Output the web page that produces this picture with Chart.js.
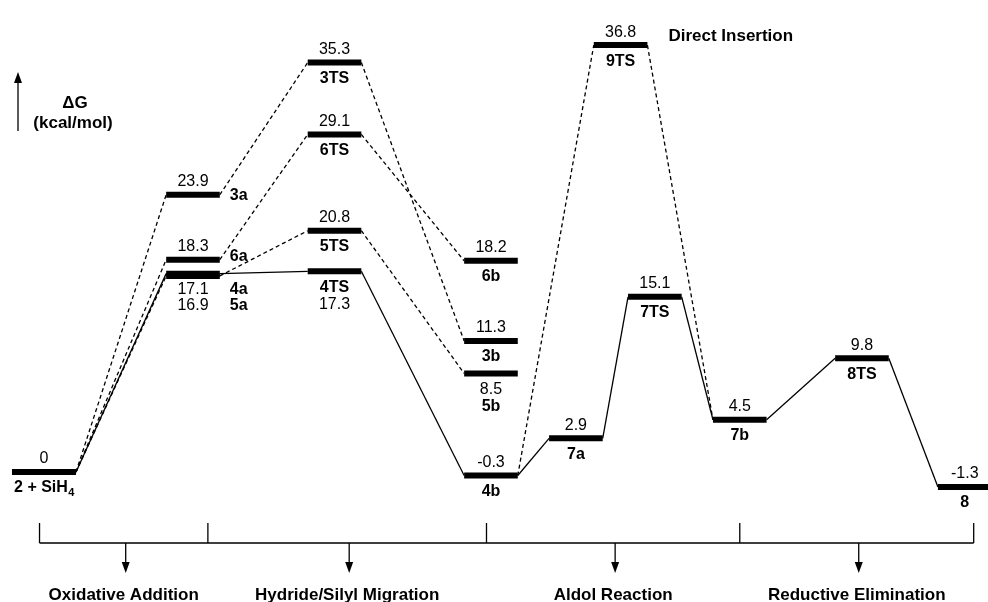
<!DOCTYPE html>
<html>
<head>
<meta charset="UTF-8">
<script src="https://cdn.jsdelivr.net/npm/chart.js"></script>
<style>
  body { margin: 0; background: #fff; }
</style>
</head>
<body>
<canvas id="myChart" width="988" height="602"></canvas>
<script>
// species on the free energy profile, their energies (kcal/mol) and place along the reaction
var species = ['2 + SiH4', '3a', '6a', '4a', '5a', '3TS', '6TS', '5TS', '4TS', '6b', '3b', '5b', '4b', '7a', '9TS', '7TS', '7b', '8TS', '8'];
var energies = [0, 23.9, 18.3, 17.1, 16.9, 35.3, 29.1, 20.8, 17.3, 18.2, 11.3, 8.5, -0.3, 2.9, 36.8, 15.1, 4.5, 9.8, -1.3];
var stage = [0, 1, 1, 1, 1, 1.95, 1.95, 1.95, 1.95, 3, 3, 3, 3, 3.57, 3.87, 4.1, 4.67, 5.49, 6.18];

// solid = lowest pathway, dashed = the alternatives
var mainPath = ['2 + SiH4', '4a', '4TS', '4b', '7a', '7TS', '7b', '8TS', '8'];
var sidePaths = [
    ['2 + SiH4', '3a', '3TS', '3b'],
    ['2 + SiH4', '6a', '6TS', '6b'],
    ['2 + SiH4', '5a', '5TS', '5b'],
    ['4b', '9TS', '7b']
];

var phases = ['Oxidative Addition', 'Hydride/Silyl Migration', 'Aldol Reaction', 'Reductive Elimination'];
var phaseBounds = [-0.03, 1.1, 2.97, 4.67, 6.24];

var FONT = '"Liberation Sans", Arial, sans-serif';

// where the texts go round each level (defaults: value above, name below)
var labelSpots = {
    '3a': { nameRight: true, nameDy: 1 },
    '6a': { nameRight: true, nameDy: -3 },
    '4a': { valueDy: 16, nameRight: true, nameDy: 16 },
    '5a': { valueDy: 30, nameRight: true, nameDy: 30 },
    '4TS': { valueDy: 33, nameDy: 16 },
    '5b': { valueDy: 16, nameDy: 33 },
    '9TS': { note: 'Direct Insertion' }
};

function half(name) { return name === '2 + SiH4' ? 0.215 : 0.18; }
function idx(name) { return species.indexOf(name); }
function leftEnd(name) { var i = idx(name); return { x: stage[i] - half(name), y: energies[i] }; }
function rightEnd(name) { var i = idx(name); return { x: stage[i] + half(name), y: energies[i] }; }

var datasets = [];
function addPath(path, dashed) {
    for (var k = 0; k < path.length - 1; k++) {
        datasets.push({
            data: [rightEnd(path[k]), leftEnd(path[k + 1])],
            borderColor: '#000',
            borderWidth: 1.3,
            borderDash: dashed ? [4, 3] : [],
            pointRadius: 0
        });
    }
}
sidePaths.forEach(function (p) { addPath(p, true); });
addPath(mainPath, false);
species.forEach(function (name) {
    datasets.push({
        data: [leftEnd(name), rightEnd(name)],
        borderColor: '#000',
        borderWidth: 6,
        borderCapStyle: 'butt',
        pointRadius: 0
    });
});

function drawName(ctx, name, x, y, align) {
    var m = name.match(/^(.*H)(\d)$/);
    if (!m) { ctx.textAlign = align; ctx.fillText(name, x, y); return; }
    ctx.font = 'bold 16px ' + FONT;
    var w1 = ctx.measureText(m[1]).width;
    ctx.font = 'bold 11px ' + FONT;
    var w2 = ctx.measureText(m[2]).width;
    var x0 = align === 'center' ? x - (w1 + w2) / 2 : x;
    ctx.textAlign = 'left';
    ctx.font = 'bold 16px ' + FONT;
    ctx.fillText(m[1], x0, y);
    ctx.font = 'bold 11px ' + FONT;
    ctx.fillText(m[2], x0 + w1 + 0.5, y + 5);
}

var levelLabels = {
    id: 'levelLabels',
    afterDatasetsDraw: function (chart) {
        var ctx = chart.ctx, xs = chart.scales.x, ys = chart.scales.y;
        ctx.save();
        ctx.fillStyle = '#000';
        ctx.textBaseline = 'middle';
        species.forEach(function (name, i) {
            var spot = labelSpots[name] || {};
            var cx = xs.getPixelForValue(stage[i]);
            var rx = xs.getPixelForValue(stage[i] + half(name));
            var py = ys.getPixelForValue(energies[i]);
            ctx.font = '16px ' + FONT;
            ctx.textAlign = 'center';
            ctx.fillText(String(energies[i]), cx, py + (spot.valueDy !== undefined ? spot.valueDy : -13));
            ctx.font = 'bold 16px ' + FONT;
            if (spot.nameRight) {
                drawName(ctx, name, rx + 10, py + spot.nameDy, 'left');
            } else {
                drawName(ctx, name, cx, py + (spot.nameDy !== undefined ? spot.nameDy : 16), 'center');
            }
            if (spot.note) {
                ctx.font = 'bold 17px ' + FONT;
                ctx.textAlign = 'left';
                ctx.fillText(spot.note, rx + 21, py - 9);
            }
        });
        ctx.restore();
    }
};

function arrowHead(ctx, x, y, dir) {
    ctx.beginPath();
    ctx.moveTo(x, y);
    ctx.lineTo(x - 4, y - 11 * dir);
    ctx.lineTo(x + 4, y - 11 * dir);
    ctx.closePath();
    ctx.fill();
}

var frame = {
    id: 'frame',
    afterDraw: function (chart) {
        var ctx = chart.ctx, xs = chart.scales.x, area = chart.chartArea;
        ctx.save();
        ctx.strokeStyle = '#000';
        ctx.fillStyle = '#000';
        ctx.lineWidth = 1.3;

        // energy axis arrow and title
        ctx.beginPath();
        ctx.moveTo(area.left + 18, area.top + 131);
        ctx.lineTo(area.left + 18, area.top + 80);
        ctx.stroke();
        arrowHead(ctx, area.left + 18, area.top + 72, -1);
        ctx.font = 'bold 17px ' + FONT;
        ctx.textAlign = 'center';
        ctx.textBaseline = 'middle';
        ctx.fillText('\u0394G', area.left + 75, area.top + 103);
        ctx.fillText('(kcal/mol)', area.left + 73, area.top + 123);

        // phase bracket under the profile
        var b = area.bottom;
        var px = phaseBounds.map(function (v) { return xs.getPixelForValue(v); });
        ctx.beginPath();
        ctx.moveTo(px[0], b + 31);
        ctx.lineTo(px[px.length - 1], b + 31);
        px.forEach(function (x) {
            ctx.moveTo(x, b + 11);
            ctx.lineTo(x, b + 31);
        });
        ctx.stroke();
        ctx.font = 'bold 17px ' + FONT;
        ctx.textBaseline = 'alphabetic';
        phases.forEach(function (label, k) {
            var mx = (px[k] + px[k + 1]) / 2 + 2;
            ctx.beginPath();
            ctx.moveTo(mx, b + 31);
            ctx.lineTo(mx, b + 52);
            ctx.stroke();
            arrowHead(ctx, mx, b + 61, 1);
            ctx.fillText(label, mx - 2, b + 88);
        });
        ctx.restore();
    }
};

var ctx = document.getElementById('myChart').getContext('2d');
var myChart = new Chart(ctx, {
    type: 'scatter',
    data: { datasets: datasets },
    options: {
        responsive: false,
        animation: false,
        showLine: true,
        layout: { padding: { left: 0, right: 0, top: 0, bottom: 90 } },
        plugins: { legend: { display: false }, tooltip: { enabled: false } },
        scales: {
            x: { type: 'linear', display: false, min: -0.2953, max: 6.336 },
            y: { type: 'linear', display: false, min: -3.45, max: 40.69 }
        }
    },
    plugins: [levelLabels, frame]
});
</script>
</body>
</html>
